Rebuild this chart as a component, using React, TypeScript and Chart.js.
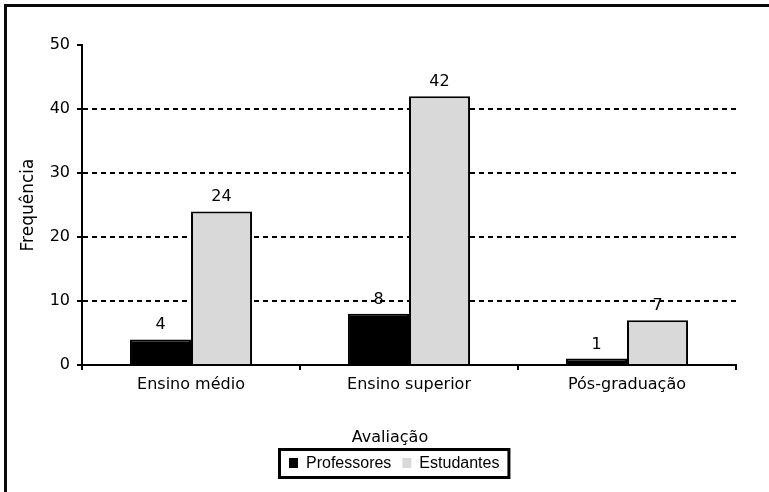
import React, { useEffect, useRef } from "react";
import { Chart, registerables } from "chart.js";

Chart.register(...registerables);

const categories = ["Ensino médio", "Ensino superior", "Pós-graduação"];
const professores = [4, 8, 1];
const estudantes = [24, 42, 7];
const seriesNames = ["Professores", "Estudantes"];
const seriesColors = ["#000000", "#d9d9d9"];
const yTicks = [0, 10, 20, 30, 40, 50];
const xTitle = "Avaliação";
const yTitle = "Frequência";

const VERDANA = "'DejaVu Sans', Verdana, sans-serif";
const ARIAL = "'Liberation Sans', Arial, sans-serif";

const framePlugin = {
  id: "framePlugin",
  beforeDraw(chart: any) {
    const { ctx, width, height } = chart;
    ctx.save();
    ctx.fillStyle = "#ffffff";
    ctx.fillRect(0, 0, width, height);
    ctx.fillStyle = "#0a0a0a";
    ctx.fillRect(4, 4, width - 4, 3);
    ctx.fillRect(4, 4, 3, height - 4);
    ctx.restore();
  },
};

const valueLabels = {
  id: "valueLabels",
  afterDatasetsDraw(chart: any) {
    const ctx = chart.ctx;
    ctx.save();
    ctx.font = `16px ${VERDANA}`;
    ctx.fillStyle = "#000";
    ctx.textAlign = "center";
    ctx.textBaseline = "alphabetic";
    chart.data.datasets.forEach((ds: any, i: number) => {
      const meta = chart.getDatasetMeta(i);
      meta.data.forEach((el: any, j: number) => {
        ctx.fillText(String(ds.data[j]), el.x, el.y - 10);
      });
    });
    ctx.restore();
  },
};

const bottomPlugin = {
  id: "bottomPlugin",
  afterDraw(chart: any) {
    const ctx = chart.ctx;
    ctx.save();
    // x-axis title
    ctx.font = `16px ${VERDANA}`;
    ctx.fillStyle = "#000";
    ctx.textAlign = "center";
    ctx.textBaseline = "alphabetic";
    ctx.fillText(xTitle, 390, 442);

    // legend
    ctx.font = `16px ${ARIAL}`;
    const pad = 11;
    const sq = 9;
    const gapSq = 8;
    const gapItem = 11;
    const widths = seriesNames.map((n) => ctx.measureText(n).width);
    let total = pad * 2;
    widths.forEach((w, i) => {
      total += sq + gapSq + w + (i > 0 ? gapItem : 0);
    });
    const cx = 394;
    const left = Math.round(cx - total / 2);
    const top = 448;
    const h = 31;
    ctx.lineWidth = 3;
    ctx.strokeStyle = "#000";
    ctx.strokeRect(left + 1.5, top + 1.5, total - 3, h - 3);
    let x = left + pad;
    const baseline = 468;
    ctx.textAlign = "left";
    seriesNames.forEach((n, i) => {
      if (i > 0) x += gapItem;
      ctx.fillStyle = seriesColors[i];
      ctx.fillRect(x, baseline - 10, sq, sq + 1);
      x += sq + gapSq;
      ctx.fillStyle = "#000";
      ctx.fillText(n, x, baseline);
      x += widths[i];
    });
    ctx.restore();
  },
};

export default function App() {
  const ref = useRef<HTMLCanvasElement>(null);
  useEffect(() => {
    if (!ref.current) return;
    const chart = new Chart(ref.current, {
      type: "bar",
      data: {
        labels: categories,
        datasets: [
          {
            label: seriesNames[0],
            data: professores,
            backgroundColor: seriesColors[0],
            borderColor: "#000",
            borderWidth: 2,
            categoryPercentage: 0.56,
            barPercentage: 1,
          },
          {
            label: seriesNames[1],
            data: estudantes,
            backgroundColor: seriesColors[1],
            borderColor: "#000",
            borderWidth: 2,
            categoryPercentage: 0.56,
            barPercentage: 1,
          },
        ],
      },
      options: {
        responsive: false,
        animation: false,
        devicePixelRatio: 1,
        layout: { padding: { left: 0, top: 45, right: 33, bottom: 0 } },
        plugins: {
          legend: { display: false },
          tooltip: { enabled: false },
        },
        scales: {
          x: {
            type: "category",
            offset: true,
            grid: {
              display: true,
              drawOnChartArea: false,
              drawTicks: true,
              offset: true,
              tickLength: 5,
              color: "#000",
              tickColor: "#000",
              lineWidth: 2,
              tickWidth: 2,
            },
            border: { display: true, color: "#000", width: 2 },
            ticks: {
              color: "#000",
              font: { family: VERDANA, size: 16 },
              padding: 5,
              maxRotation: 0,
              autoSkip: false,
            },
            afterFit: (s: any) => {
              s.height = 127;
            },
          },
          y: {
            min: 0,
            max: 50,
            afterBuildTicks: (s: any) => {
              s.ticks = yTicks.map((v) => ({ value: v }));
            },
            ticks: {
              color: "#000",
              font: { family: VERDANA, size: 16 },
              padding: 7,
            },
            grid: {
              color: (c: any) =>
                c.tick && c.tick.value > 0 && c.tick.value < 50 ? "#000" : "rgba(0,0,0,0)",
              lineWidth: 2,
              tickColor: "#000",
              tickWidth: 2,
              tickLength: 5,
              drawTicks: true,
            },
            border: { display: true, color: "#000", width: 2, dash: [5, 4] },
            title: {
              display: true,
              text: yTitle,
              color: "#000",
              font: { family: VERDANA, size: 17 },
              padding: { top: 18, bottom: 0 },
            },
            afterFit: (s: any) => {
              s.width = 82;
            },
          },
        },
      },
      plugins: [framePlugin, valueLabels, bottomPlugin],
    } as any);
    return () => chart.destroy();
  }, []);
  return (
    <div style={{ position: "absolute", left: 0, top: 0, width: 769, height: 492, background: "#fff" }}>
      <canvas ref={ref} width={769} height={492} style={{ display: "block" }} />
    </div>
  );
}
